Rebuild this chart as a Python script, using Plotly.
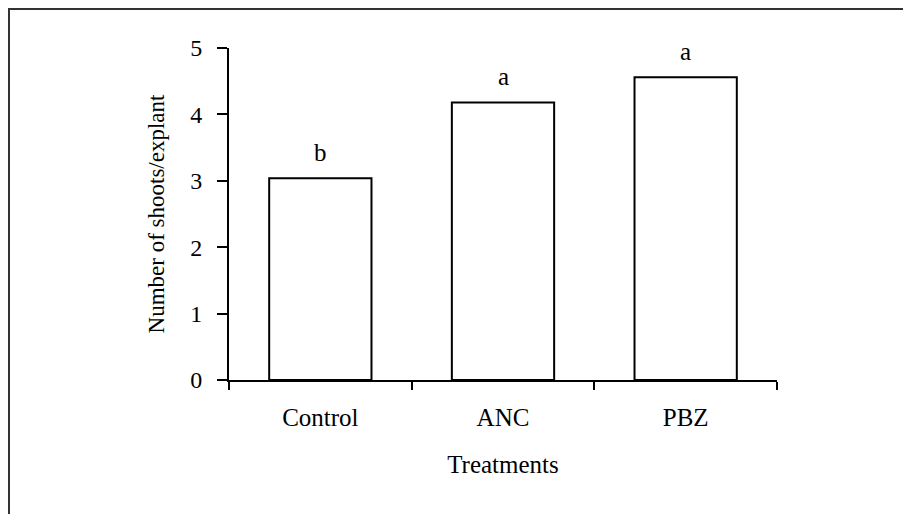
import plotly.graph_objects as go

categories = ["Control", "ANC", "PBZ"]
shoots = [3.04, 4.18, 4.56]
letters = ["b", "a", "a"]
y_ticks = [0, 1, 2, 3, 4, 5]

# the page body adds an 8px offset, so the figure is laid out 8px smaller
W, H = 903, 506
L, T = 221, 40
pw, ph = 548, 332
R, B = W - L - pw, H - T - ph
FONT = "Liberation Serif, Times New Roman, serif"

fig = go.Figure()
fig.add_trace(go.Bar(
    x=categories, y=shoots,
    marker=dict(color="white", line=dict(color="black", width=2)),
    width=0.56,
))

for c, v, s in zip(categories, shoots, letters):
    fig.add_annotation(x=c, y=v, text=s, showarrow=False, yanchor="bottom",
                       yshift=10, font=dict(family=FONT, size=25, color="black"))

# outer frame (only top and left visible in the reference)
bx = (0 - L) / pw
by = 1 + (T - 1) / ph
fig.add_shape(type="line", xref="paper", yref="paper", x0=bx, x1=1.5, y0=by, y1=by,
              line=dict(color="#333", width=2))
fig.add_shape(type="line", xref="paper", yref="paper", x0=bx + 1 / pw, x1=bx + 1 / pw,
              y0=by, y1=-0.6, line=dict(color="#333", width=2))

fig.update_layout(
    width=W, height=H,
    margin=dict(l=L, r=R, t=T, b=B),
    paper_bgcolor="white", plot_bgcolor="white",
    showlegend=False,
    font=dict(family=FONT, color="black"),
)
fig.update_xaxes(
    showline=True, linecolor="black", linewidth=2,
    ticks="outside", tickson="boundaries", ticklen=8, tickwidth=2, tickcolor="black",
    ticklabelstandoff=14,
    tickfont=dict(family=FONT, size=25), showgrid=False,
    title=dict(text="Treatments", font=dict(family=FONT, size=25), standoff=25),
)
fig.update_yaxes(
    range=[0, 5], tickvals=y_ticks, showline=True, linecolor="black", linewidth=2,
    ticks="outside", ticklen=10, tickwidth=2, tickcolor="black",
    ticklabelstandoff=10,
    tickfont=dict(family=FONT, size=24), showgrid=False, zeroline=False,
    title=dict(text="Number of shoots/explant", font=dict(family=FONT, size=23), standoff=19),
)

fig.write_html("out.html")
